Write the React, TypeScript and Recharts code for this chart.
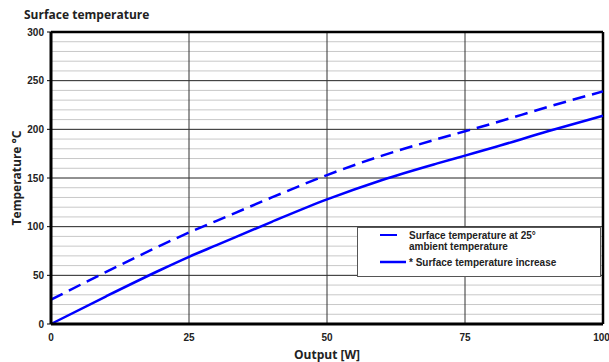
import { LineChart, Line, XAxis, YAxis, ReferenceLine, Label } from 'recharts'

// readings (W -> °C)
const outputW = [0, 10, 20, 25, 30, 40, 50, 60, 70, 75, 80, 90, 100]
const ambient25 = [25, 53.5, 81, 94, 106, 130, 153, 173, 190, 198, 206, 223, 239]
const increase = [0, 28.5, 56, 69, 81, 105, 128, 148, 165, 173, 181, 198, 214]

const xTicks = [0, 25, 50, 75, 100]
const yTicks = [0, 50, 100, 150, 200, 250, 300]
const minorY = [10, 20, 30, 40, 60, 70, 80, 90, 110, 120, 130, 140, 160, 170, 180, 190, 210, 220, 230, 240, 260, 270, 280, 290]

const data = outputW.map((w, i) => ({ w, ambient: ambient25[i], rise: increase[i] }))

const FONT = '"Liberation Sans", Arial, sans-serif'
const BLUE = '#0000ff'

function LegendBox() {
  return (
    <div
      style={{
        position: 'absolute',
        left: 357,
        top: 227,
        width: 242,
        height: 48,
        background: '#fff',
        border: '1px solid #555',
        fontFamily: FONT,
        fontWeight: 700,
        fontSize: 10,
        color: '#222',
        lineHeight: '11px',
      }}
    >
      <svg width={30} height={48} style={{ position: 'absolute', left: 20, top: 0 }}>
        <line x1={2} y1={7} x2={19} y2={7} stroke={BLUE} strokeWidth={2} />
        <line x1={2} y1={34} x2={28} y2={34} stroke={BLUE} strokeWidth={2.5} />
      </svg>
      <div style={{ position: 'absolute', left: 51, top: 2 }}>
        Surface temperature at 25°
        <br />
        ambient temperature
      </div>
      <div style={{ position: 'absolute', left: 51, top: 29 }}>* Surface temperature increase</div>
    </div>
  )
}

export default function App() {
  return (
    <div style={{ position: 'absolute', left: 0, top: 0, width: 609, height: 362, background: '#fff' }}>
      <div
        style={{
          position: 'absolute',
          left: 24,
          top: 6,
          fontFamily: '"Open Sans", sans-serif',
          fontWeight: 700,
          fontSize: 12,
          color: '#222',
        }}
      >
        Surface temperature
      </div>
      <LineChart width={609} height={362} data={data} margin={{ top: 32, right: 6, left: 0, bottom: 0 }}>
        {minorY.map(v => (
          <ReferenceLine key={'m' + v} y={v} stroke="#c8c8c8" strokeWidth={1} />
        ))}
        {yTicks.slice(1, -1).map(v => (
          <ReferenceLine key={'y' + v} y={v} stroke="#222" strokeWidth={1} />
        ))}
        {xTicks.slice(1, -1).map(v => (
          <ReferenceLine key={'x' + v} x={v} stroke="#333" strokeWidth={1} />
        ))}
        <ReferenceLine y={300} stroke="#000" strokeWidth={2.5} />
        <ReferenceLine x={100} stroke="#000" strokeWidth={2.5} />
        <XAxis
          dataKey="w"
          type="number"
          domain={[0, 100]}
          ticks={xTicks}
          height={38}
          axisLine={{ stroke: '#000', strokeWidth: 3 }}
          tickLine={false}
          tick={{ fill: '#222', fontSize: 10, fontWeight: 700, fontFamily: FONT }}
          tickMargin={4}
        >
          <Label
            value="Output [W]"
            position="insideBottom"
            offset={3}
            style={{ fill: '#222', fontSize: 12, fontWeight: 700, fontFamily: '"Open Sans", sans-serif' }}
          />
        </XAxis>
        <YAxis
          type="number"
          domain={[0, 300]}
          ticks={yTicks}
          width={51}
          axisLine={{ stroke: '#000', strokeWidth: 3 }}
          tickLine={{ stroke: '#000' }}
          tickSize={4}
          tick={{ fill: '#222', fontSize: 10, fontWeight: 700, fontFamily: FONT }}
          tickMargin={3}
        >
          <Label
            value="Temperature °C"
            angle={-90}
            position="insideLeft"
            offset={17}
            style={{ textAnchor: 'middle', fill: '#222', fontSize: 12, fontWeight: 700, fontFamily: '"Open Sans", sans-serif' }}
          />
        </YAxis>
        <Line
          type="monotone"
          dataKey="ambient"
          stroke={BLUE}
          strokeWidth={2.5}
          strokeDasharray="13 7"
          dot={false}
          isAnimationActive={false}
        />
        <Line
          type="monotone"
          dataKey="rise"
          stroke={BLUE}
          strokeWidth={2.5}
          dot={false}
          isAnimationActive={false}
        />
      </LineChart>
      <LegendBox />
    </div>
  )
}
